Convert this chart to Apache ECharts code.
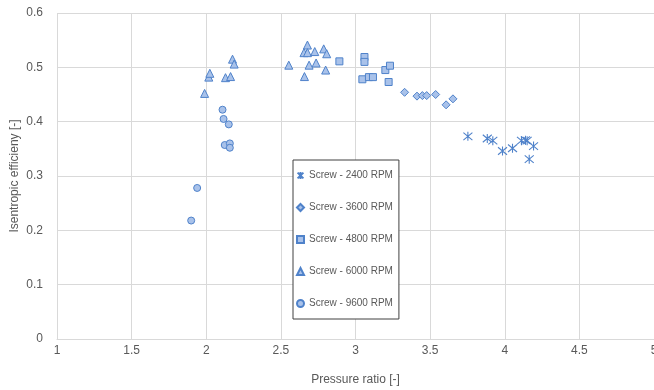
<!DOCTYPE html>
<html>
<head>
<meta charset="utf-8">
<script src="https://cdn.jsdelivr.net/npm/echarts@6/dist/echarts.min.js"></script>
<style>
  html, body { margin: 0; padding: 0; background: #ffffff; }
  #chart { width: 654px; height: 390px; }
</style>
</head>
<body>
<div id="chart"></div>
<script>
// Measured isentropic efficiency vs pressure ratio for a screw expander at five speeds
const rpm2400 = [
  [3.753, 0.373], [3.883, 0.369], [3.920, 0.365], [3.985, 0.346], [4.052, 0.351],
  [4.112, 0.365], [4.139, 0.366], [4.150, 0.365], [4.193, 0.355], [4.164, 0.331]
];
const rpm3600 = [
  [3.329, 0.454], [3.412, 0.447], [3.448, 0.448], [3.477, 0.448], [3.537, 0.450],
  [3.607, 0.431], [3.653, 0.442]
];
const rpm4800 = [
  [2.892, 0.511], [3.060, 0.519], [3.060, 0.510], [3.046, 0.478], [3.090, 0.482],
  [3.117, 0.482], [3.200, 0.495], [3.231, 0.503], [3.222, 0.473]
];
const rpm6000 = [
  [1.989, 0.452], [2.017, 0.482], [2.024, 0.489], [2.129, 0.481], [2.163, 0.483],
  [2.176, 0.515], [2.187, 0.506],
  [2.553, 0.504], [2.678, 0.541], [2.655, 0.527], [2.678, 0.527], [2.727, 0.529],
  [2.787, 0.534], [2.807, 0.525], [2.689, 0.504], [2.736, 0.508], [2.800, 0.495],
  [2.658, 0.483]
];
const rpm9600 = [
  [1.899, 0.218], [1.939, 0.278], [2.109, 0.422], [2.116, 0.405], [2.151, 0.395],
  [2.124, 0.357], [2.158, 0.360], [2.158, 0.352]
];
const seriesNames = [
  'Screw - 2400 RPM', 'Screw - 3600 RPM', 'Screw - 4800 RPM',
  'Screw - 6000 RPM', 'Screw - 9600 RPM'
];
const xTitle = 'Pressure ratio [-]';
const yTitle = 'Isentropic efficieny [-]';

const FILL = '#a9c2ea';
const EDGE = '#4f82ca';
const TEXT = '#595959';
const GRID = '#d9d9d9';
const FONT = 'Liberation Sans, Arial, sans-serif';

// asterisk-style marker: an X crossed by a vertical stroke
const STAR = 'path://M0,0L10,10M10,0L0,10M5,-1L5,11';

const markers = [
  { data: rpm2400, symbol: STAR, size: 9, fill: 'rgba(0,0,0,0)', width: 1.1 },
  { data: rpm3600, symbol: 'diamond', size: 8, fill: FILL, width: 1 },
  { data: rpm4800, symbol: 'rect', size: 7, fill: FILL, width: 1 },
  { data: rpm6000, symbol: 'triangle', size: 8, fill: FILL, width: 1 },
  { data: rpm9600, symbol: 'circle', size: 7, fill: FILL, width: 1 }
];

const chart = echarts.init(document.getElementById('chart'), null, { renderer: 'canvas' });

chart.setOption({
  animation: false,
  backgroundColor: '#ffffff',
  textStyle: { fontFamily: FONT },
  grid: {
    left: 57, top: 13, right: 0, bottom: 51,
    containLabel: false,
    outerBoundsMode: 'none'
  },
  xAxis: {
    type: 'value',
    min: 1, max: 5, interval: 0.5,
    name: xTitle,
    nameLocation: 'middle',
    nameGap: 35,
    nameTextStyle: { color: TEXT, fontSize: 12, fontFamily: FONT },
    axisLine: { show: true, lineStyle: { color: GRID } },
    axisTick: { show: false },
    axisLabel: { color: TEXT, fontSize: 12, margin: 6, fontFamily: FONT },
    splitLine: { show: true, lineStyle: { color: GRID } }
  },
  yAxis: {
    type: 'value',
    min: 0, max: 0.6, interval: 0.1,
    name: yTitle,
    nameLocation: 'middle',
    nameGap: 36,
    nameMoveOverlap: false,
    nameTextStyle: { color: TEXT, fontSize: 12, fontFamily: FONT },
    axisLine: { show: false },
    axisTick: { show: false },
    axisLabel: { color: TEXT, fontSize: 12, margin: 14, fontFamily: FONT },
    splitLine: { show: true, lineStyle: { color: GRID } }
  },
  legend: {
    orient: 'vertical',
    left: 293, top: 160,
    padding: [10, 6, 10, 3],
    itemGap: 21,
    itemWidth: 7, itemHeight: 7,
    backgroundColor: '#ffffff',
    borderColor: '#404040',
    borderWidth: 1,
    textStyle: { color: TEXT, fontSize: 10, fontFamily: FONT, lineHeight: 11 },
    data: seriesNames
  },
  series: markers.map((m, i) => ({
    name: seriesNames[i],
    type: 'scatter',
    data: m.data,
    symbol: m.symbol,
    symbolSize: m.size,
    itemStyle: { color: m.fill, borderColor: EDGE, borderWidth: m.width, opacity: 1 },
    emphasis: { disabled: true }
  }))
});
</script>
</body>
</html>
